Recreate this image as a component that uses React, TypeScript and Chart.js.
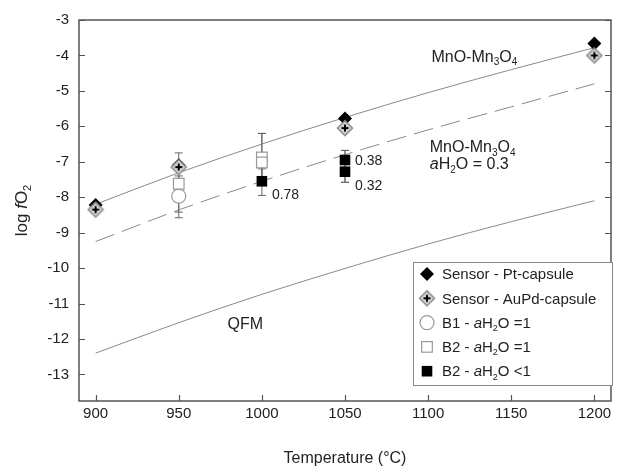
import React, { useEffect, useRef } from 'react';
import { Chart, registerables } from 'chart.js';

Chart.register(...registerables);

const FAMILY = '"Liberation Sans", Arial, sans-serif';

// Buffer curves (temperature °C, log fO2)
const lineTemps = [900, 950, 1000, 1050, 1100, 1150, 1200];
const mnoBuffer = [-8.2, -7.31, -6.5, -5.75, -5.05, -4.4, -3.78];
const mnoWetBuffer = [-9.25, -8.36, -7.55, -6.8, -6.1, -5.45, -4.8];
const qfmBuffer = [-12.4, -11.54, -10.74, -10.01, -9.32, -8.69, -8.1];

// Sensor - Pt-capsule
const ptTemps = [900, 950, 1050, 1200];
const ptValues = [-8.22, -7.1, -5.78, -3.66];
// Sensor - AuPd-capsule
const aupdTemps = [900, 950, 1050, 1200];
const aupdValues = [-8.35, -7.15, -6.05, -4.0];
// B1 - aH2O = 1
const b1Temps = [950];
const b1Values = [-7.97];
const b1Low = [-8.58];
const b1High = [-7.4];
// B2 - aH2O = 1
const b2Temps = [950, 1000, 1000];
const b2Values = [-7.62, -6.88, -7.02];
const b2Low = [-8.42, -7.5, -7.5];
const b2High = [-6.75, -6.2, -6.2];
// B2 - aH2O < 1
const b2wTemps = [1000, 1050, 1050];
const b2wValues = [-7.55, -6.95, -7.28];
const b2wLow = [-7.95, -7.58, -7.58];
const b2wHigh = [-7.2, -6.68, -6.68];
const b2wLabels = ['0.78', '0.38', '0.32'];

const xTicks = [900, 950, 1000, 1050, 1100, 1150, 1200];
const yTicks = [-3, -4, -5, -6, -7, -8, -9, -10, -11, -12, -13];

type Seg = { t: string; i?: boolean; s?: boolean };

const mnoText: Seg[] = [{ t: 'MnO-Mn' }, { t: '3', s: true }, { t: 'O' }, { t: '4', s: true }];
const wetText: Seg[] = [{ t: 'a', i: true }, { t: 'H' }, { t: '2', s: true }, { t: 'O = 0.3' }];
const qfmText: Seg[] = [{ t: 'QFM' }];
const yTitle: Seg[] = [{ t: 'log ' }, { t: 'f', i: true }, { t: 'O' }, { t: '2', s: true }];
const xTitle: Seg[] = [{ t: 'Temperature (°C)' }];

const legendLabels: Seg[][] = [
  [{ t: 'Sensor - Pt-capsule' }],
  [{ t: 'Sensor - AuPd-capsule' }],
  [{ t: 'B1 - ' }, { t: 'a', i: true }, { t: 'H' }, { t: '2', s: true }, { t: 'O =1' }],
  [{ t: 'B2 - ' }, { t: 'a', i: true }, { t: 'H' }, { t: '2', s: true }, { t: 'O =1' }],
  [{ t: 'B2 - ' }, { t: 'a', i: true }, { t: 'H' }, { t: '2', s: true }, { t: 'O <1' }],
];
const legendMarkers = ['pt', 'aupd', 'b1', 'b2', 'b2w'];

function segFont(seg: Seg, size: number) {
  return `${seg.i ? 'italic ' : ''}${seg.s ? Math.round(size * 0.62) : size}px ${FAMILY}`;
}

function drawRich(ctx: CanvasRenderingContext2D, segs: Seg[], x: number, y: number, size: number, align: 'left' | 'center', color = '#222') {
  ctx.save();
  ctx.textBaseline = 'alphabetic';
  ctx.textAlign = 'left';
  ctx.fillStyle = color;
  let total = 0;
  for (const s of segs) {
    ctx.font = segFont(s, size);
    total += ctx.measureText(s.t).width;
  }
  let cx = align === 'center' ? x - total / 2 : x;
  const base = y + size * 0.35;
  for (const s of segs) {
    ctx.font = segFont(s, size);
    ctx.fillText(s.t, cx, s.s ? base + size * 0.22 : base);
    cx += ctx.measureText(s.t).width;
  }
  ctx.restore();
}

function makeAuPdMarker() {
  const c = document.createElement('canvas');
  c.width = 18;
  c.height = 18;
  const g = c.getContext('2d')!;
  const m = 9;
  g.beginPath();
  g.moveTo(m, m - 7.5);
  g.lineTo(m + 7.5, m);
  g.lineTo(m, m + 7.5);
  g.lineTo(m - 7.5, m);
  g.closePath();
  g.fillStyle = '#d4d4d4';
  g.fill();
  g.strokeStyle = '#8a8a8a';
  g.lineWidth = 1.5;
  g.stroke();
  g.strokeStyle = '#000';
  g.lineWidth = 2;
  g.beginPath();
  g.moveTo(m - 3.5, m);
  g.lineTo(m + 3.5, m);
  g.moveTo(m, m - 3.5);
  g.lineTo(m, m + 3.5);
  g.stroke();
  return c;
}

function drawMarker(ctx: CanvasRenderingContext2D, kind: string, x: number, y: number, aupd: HTMLCanvasElement) {
  ctx.save();
  if (kind === 'pt') {
    ctx.beginPath();
    ctx.moveTo(x, y - 7);
    ctx.lineTo(x + 7, y);
    ctx.lineTo(x, y + 7);
    ctx.lineTo(x - 7, y);
    ctx.closePath();
    ctx.fillStyle = '#000';
    ctx.fill();
  } else if (kind === 'aupd') {
    ctx.drawImage(aupd, x - 9, y - 9);
  } else if (kind === 'b1') {
    ctx.beginPath();
    ctx.arc(x, y, 7, 0, Math.PI * 2);
    ctx.fillStyle = '#fff';
    ctx.fill();
    ctx.strokeStyle = '#999';
    ctx.lineWidth = 1.2;
    ctx.stroke();
  } else if (kind === 'b2') {
    ctx.fillStyle = '#fff';
    ctx.fillRect(x - 5.3, y - 5.3, 10.6, 10.6);
    ctx.strokeStyle = '#999';
    ctx.lineWidth = 1.2;
    ctx.strokeRect(x - 5.3, y - 5.3, 10.6, 10.6);
  } else {
    ctx.fillStyle = '#000';
    ctx.fillRect(x - 5.3, y - 5.3, 10.6, 10.6);
  }
  ctx.restore();
}

export default function App() {
  const ref = useRef<HTMLCanvasElement | null>(null);

  useEffect(() => {
    document.body.style.margin = '0';
    const canvas = ref.current;
    if (!canvas) return;
    const aupd = makeAuPdMarker();

    const errSets = [
      { t: b1Temps, lo: b1Low, hi: b1High },
      { t: b2Temps, lo: b2Low, hi: b2High },
      { t: b2wTemps, lo: b2wLow, hi: b2wHigh },
    ];

    const decor = {
      id: 'decor',
      beforeDatasetsDraw(chart: any) {
        const ctx = chart.ctx as CanvasRenderingContext2D;
        const xs = chart.scales.x;
        const ys = chart.scales.y;
        ctx.save();
        ctx.strokeStyle = '#666';
        ctx.lineWidth = 1;
        for (const e of errSets) {
          e.t.forEach((t, i) => {
            const px = xs.getPixelForValue(t);
            const y1 = ys.getPixelForValue(e.hi[i]);
            const y2 = ys.getPixelForValue(e.lo[i]);
            ctx.beginPath();
            ctx.moveTo(px, y1);
            ctx.lineTo(px, y2);
            ctx.moveTo(px - 4, y1);
            ctx.lineTo(px + 4, y1);
            ctx.moveTo(px - 4, y2);
            ctx.lineTo(px + 4, y2);
            ctx.stroke();
          });
        }
        ctx.restore();
      },
      afterDraw(chart: any) {
        const ctx = chart.ctx as CanvasRenderingContext2D;
        const xs = chart.scales.x;
        const ys = chart.scales.y;
        const a = chart.chartArea;
        ctx.save();
        // frame
        ctx.strokeStyle = '#555';
        ctx.lineWidth = 1.5;
        ctx.strokeRect(a.left, a.top, a.right - a.left, a.bottom - a.top);
        // inward ticks
        ctx.lineWidth = 1.2;
        ctx.beginPath();
        for (const v of yTicks) {
          const py = Math.round(ys.getPixelForValue(v)) + 0.5;
          ctx.moveTo(a.left, py);
          ctx.lineTo(a.left + 6, py);
          ctx.moveTo(a.right, py);
          ctx.lineTo(a.right - 6, py);
        }
        for (const v of xTicks) {
          const px = Math.round(xs.getPixelForValue(v)) + 0.5;
          ctx.moveTo(px, a.bottom);
          ctx.lineTo(px, a.bottom - 6);
        }
        ctx.stroke();
        ctx.restore();

        // curve labels
        drawRich(ctx, mnoText, xs.getPixelForValue(1102), ys.getPixelForValue(-4.02), 16, 'left');
        drawRich(ctx, mnoText, xs.getPixelForValue(1101), ys.getPixelForValue(-6.58), 16, 'left');
        drawRich(ctx, wetText, xs.getPixelForValue(1101), ys.getPixelForValue(-7.05), 16, 'left');
        drawRich(ctx, qfmText, xs.getPixelForValue(990), ys.getPixelForValue(-11.55), 16, 'center');

        // water activity labels
        const lblOffsets = [[10, 13], [10, 0], [10, 13]];
        b2wLabels.forEach((l, i) => {
          const px = xs.getPixelForValue(b2wTemps[i]);
          const py = ys.getPixelForValue(b2wValues[i]);
          drawRich(ctx, [{ t: l }], px + lblOffsets[i][0], py + lblOffsets[i][1], 14, 'left');
        });

        // axis titles
        drawRich(ctx, xTitle, (a.left + a.right) / 2, 457, 16, 'center');
        ctx.save();
        ctx.translate(21, (a.top + a.bottom) / 2);
        ctx.rotate(-Math.PI / 2);
        drawRich(ctx, yTitle, 0, 0, 17, 'center');
        ctx.restore();

        // legend
        const lx = 413, ly = 262, lw = 199, lh = 123;
        ctx.save();
        ctx.fillStyle = '#fff';
        ctx.fillRect(lx, ly, lw, lh);
        ctx.strokeStyle = '#888';
        ctx.lineWidth = 1;
        ctx.strokeRect(lx + 0.5, ly + 0.5, lw, lh);
        ctx.restore();
        legendLabels.forEach((segs, i) => {
          const cy = ly + 12 + i * 24.3;
          drawMarker(ctx, legendMarkers[i], lx + 14, cy, aupd);
          drawRich(ctx, segs, lx + 29, cy, 15, 'left');
        });
      },
    };

    const pts = (xs: number[], ys: number[]) => xs.map((x, i) => ({ x, y: ys[i] }));

    const chart = new Chart(canvas, {
      type: 'scatter',
      data: {
        datasets: [
          {
            label: 'B2 - aH2O <1',
            data: pts(b2wTemps, b2wValues),
            pointStyle: 'rect',
            pointRadius: 7.5,
            backgroundColor: '#000',
            borderColor: '#000',
            borderWidth: 0,
          },
          {
            label: 'Sensor - AuPd-capsule',
            data: pts(aupdTemps, aupdValues),
            pointStyle: aupd as any,
            pointRadius: 9,
          },
          {
            label: 'Sensor - Pt-capsule',
            data: pts(ptTemps, ptValues),
            pointStyle: 'rectRot',
            pointRadius: 7,
            backgroundColor: '#000',
            borderColor: '#000',
            borderWidth: 0,
          },
          {
            label: 'B2 - aH2O =1',
            data: pts(b2Temps, b2Values),
            pointStyle: 'rect',
            pointRadius: 7.5,
            backgroundColor: '#fff',
            borderColor: '#999',
            borderWidth: 1.2,
          },
          {
            label: 'B1 - aH2O =1',
            data: pts(b1Temps, b1Values),
            pointStyle: 'circle',
            pointRadius: 7,
            backgroundColor: '#fff',
            borderColor: '#999',
            borderWidth: 1.2,
          },
          {
            label: 'MnO-Mn3O4',
            data: pts(lineTemps, mnoBuffer),
            showLine: true,
            pointRadius: 0,
            borderColor: '#8a8a8a',
            borderWidth: 1,
            cubicInterpolationMode: 'monotone',
          } as any,
          {
            label: 'MnO-Mn3O4 aH2O = 0.3',
            data: pts(lineTemps, mnoWetBuffer),
            showLine: true,
            pointRadius: 0,
            borderColor: '#8a8a8a',
            borderWidth: 1,
            borderDash: [20, 8],
            cubicInterpolationMode: 'monotone',
          } as any,
          {
            label: 'QFM',
            data: pts(lineTemps, qfmBuffer),
            showLine: true,
            pointRadius: 0,
            borderColor: '#8a8a8a',
            borderWidth: 1,
            cubicInterpolationMode: 'monotone',
          } as any,
        ],
      },
      options: {
        responsive: false,
        animation: false,
        events: [],
        layout: { padding: { left: 0, right: 3, top: 20, bottom: 0 } },
        plugins: { legend: { display: false }, tooltip: { enabled: false } },
        scales: {
          x: {
            type: 'linear',
            min: 890,
            max: 1210,
            afterBuildTicks: (s: any) => {
              s.ticks = xTicks.map((v) => ({ value: v }));
            },
            afterFit: (s: any) => {
              s.height = 70;
            },
            grid: { display: false, drawTicks: false },
            border: { display: false },
            ticks: {
              font: { family: FAMILY, size: 15 },
              color: '#222',
              padding: 4,
              maxRotation: 0,
              autoSkip: false,
              callback: (v: any) => String(v),
            },
          },
          y: {
            type: 'linear',
            min: -13.75,
            max: -3,
            afterBuildTicks: (s: any) => {
              s.ticks = yTicks.map((v) => ({ value: v }));
            },
            afterFit: (s: any) => {
              s.width = 79;
            },
            grid: { display: false, drawTicks: false },
            border: { display: false },
            ticks: {
              font: { family: FAMILY, size: 15 },
              color: '#222',
              padding: 10,
              autoSkip: false,
              callback: (v: any) => String(v),
            },
          },
        },
      },
      plugins: [decor],
    });

    return () => chart.destroy();
  }, []);

  return (
    <div style={{ width: 621, height: 471 }}>
      <canvas ref={ref} width={621} height={471} style={{ display: 'block' }} />
    </div>
  );
}
